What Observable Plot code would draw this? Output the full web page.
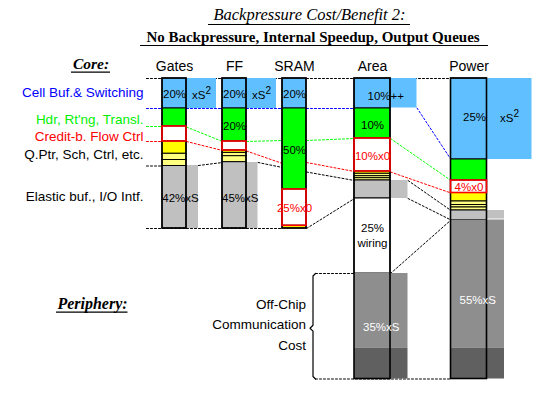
<!DOCTYPE html>
<html><head><meta charset="utf-8">
<script src="https://cdn.jsdelivr.net/npm/d3@7"></script>
<script src="https://cdn.jsdelivr.net/npm/@observablehq/plot@0.6"></script>
<style>body{margin:0;background:#fff}</style>
</head><body><div id="chart"></div>
<script>
// ---------- data ----------
const columns = ["Gates", "FF", "SRAM", "Area", "Power"];
const categoryNames = ["Cell Buf.& Switching", "Hdr, Rt'ng, Transl.", "Credit-b. Flow Ctrl", "Q.Ptr, Sch, Ctrl, etc.", "Elastic buf., I/O Intf."];
const categoryKeys = ["cell", "hdr", "credit", "qptr", "elastic"];
const categoryColors = ["#0000ff", "#00f000", "#ff0000", "#000000", "#000000"];
const categoryLabelLevels = [13.7, 41, 57.7, 76, 117.7];
const peripheryNames = ["Off-Chip", "Communication", "Cost"];

// segment categories and sizes (cost units, top to bottom)
const gatesCats = ["cell", "hdr", "credit", "qptr", "qptr2", "qptr2", "elastic"];
const gatesVals = [30, 18, 15, 12.3, 6.2, 6, 62.5];
const ffCats = ["cell", "hdr", "credit", "qptr", "qptr2", "qptr2", "elastic"];
const ffVals = [30, 33, 9, 2.4, 3.3, 6, 66.3];
const sramCats = ["cell", "hdr", "credit", "qptr"];
const sramVals = [30, 81, 36.3, 2.7];
const areaCats = ["cell", "hdr", "credit", "qptr", "qptr2", "qptr2", "qptr2", "elastic", "wiring", "offchip", "offchip2"];
const areaVals = [30, 30, 33, 2.3, 2.4, 2, 2.3, 18, 75, 74.5, 31];
const powerCats = ["cell", "hdr", "credit", "qptr", "qptr2", "qptr2", "qptr2", "elastic", "offchip", "offchip2"];
const powerVals = [81, 21, 12.5, 8.5, 3.5, 2.5, 3, 9.5, 128, 31];

// scaled extensions (xS^2, xS, ++)
const extCols = ["Gates", "Gates", "FF", "FF", "Area", "Area", "Area", "Area", "Power", "Power", "Power", "Power"];
const extCats = ["cell", "elastic", "cell", "elastic", "cell", "elastic", "offchip", "offchip2", "cell", "elastic", "offchip", "offchip2"];
const extFrom = [0, 87, 0, 84, 0, 102, 195, 269.5, 0, 132, 141.5, 269.5];
const extTo = [30, 150, 30, 150, 29.5, 120, 269.5, 300.5, 81, 140.5, 269.5, 300.5];
const extSize = [30, 12, 30, 11.5, 26.5, 17.5, 17.5, 17.5, 45, 17.5, 17.5, 17.5];

// value labels
const valCols = ["Gates", "Gates", "Gates", "FF", "FF", "FF", "FF", "SRAM", "SRAM", "SRAM", "Area", "Area", "Area", "Area", "Area", "Power", "Power", "Power", "Power"];
const valTexts = ["20%", "xS²", "42%xS", "20%", "xS²", "20%", "45%xS", "20%", "50%", "25%x0", "10%++", "10%", "10%x0", "25%\nwiring", "35%xS", "25%", "xS²", "4%x0", "55%xS"];
const valLevels = [14.5, 15.5, 119, 14.5, 15.5, 47, 119, 14.5, 71, 128.5, 16.3, 46, 77, 156.5, 247.7, 37.7, 38.5, 108, 220.5];
const valSpan = ["bar", "ext:cell", "both:elastic", "bar", "ext:cell", "bar", "both:elastic", "bar", "bar", "bar", "both:cell", "bar", "bar", "bar", "both:offchip", "bar", "ext:cell", "bar", "both:offchip"];
const valKind = ["k", "k", "k", "k", "k", "k", "k", "k", "k", "r", "k", "k", "r", "k", "w", "k", "k", "r", "w"];

// dotted connectors between columns: [series, from column, from edge, from level, to column, to level]
const links = [
  ["top", "labels", "bar", 0, "Power", 0],
  ["cell", "labels", "bar", 30, "Area", 30],
  ["cell", "Area", "ext:cell", 29.5, "Power", 81],
  ["hdr", "labels", "bar", 48, "Gates", 48],
  ["hdr", "Gates", "bar", 48.5, "FF", 63],
  ["hdr", "FF", "bar", 63, "SRAM", 62],
  ["hdr", "SRAM", "bar", 62, "Area", 60],
  ["hdr", "Area", "bar", 60, "Power", 102],
  ["credit", "labels", "bar", 63, "Gates", 63],
  ["credit", "Gates", "bar", 63, "FF", 72],
  ["credit", "FF", "bar", 72.5, "SRAM", 85],
  ["credit", "SRAM", "bar", 84, "Area", 93],
  ["credit", "Area", "bar", 93.5, "Power", 114.5],
  ["qptr", "labels", "bar", 87.5, "Gates", 87.5],
  ["qptr", "Gates", "ext:elastic", 87, "FF", 84],
  ["qptr", "FF", "ext:elastic", 84, "SRAM", 89],
  ["qptr", "SRAM", "bar", 93.5, "Area", 102],
  ["qptr", "Area", "ext:elastic", 102, "Power", 132],
  ["elastic", "labels", "bar", 150, "SRAM", 150],
  ["elastic", "SRAM", "bar", 150, "Area", 120],
  ["elastic", "Area", "ext:elastic", 120, "Power", 141.5],
  ["wiring", "Area", "bar", 195, "Power", 141.5],
  ["periphTop", "brace", "bar", 195, "Area", 195],
  ["periphBottom", "brace", "bar", 300.5, "Power", 300.5]
];

// ---------- layout & style ----------
const W = 546, H = 393, barTop = 78;
const colLeft = [162, 222, 282, 354, 450.5];
const colWidth = [24, 24, 24, 36, 36];
const labelEdge = 146, braceEdge = 315, labelRight = 143, periphRight = 305.5;
const fillOf = {cell: "#60c0ff", hdr: "#00ff00", credit: "#ffffff", qptr: "#ffff00", qptr2: "#ffff80",
  elastic: "#c0c0c0", wiring: "#ffffff", offchip: "#8e8e8e", offchip2: "#606060"};
const linkColor = {top: "black", cell: "#0000ff", hdr: "#00ff00", credit: "#ff0000", qptr: "black",
  elastic: "black", wiring: "black", periphTop: "black", periphBottom: "black"};
const kindColor = {k: "black", r: "#ff0000", w: "white"};
const SANS = "Liberation Sans, Arial, Helvetica, sans-serif";
const SERIF = "Liberation Serif, Times New Roman, serif";

const ci = c => columns.indexOf(c);
const L = c => colLeft[ci(c)];
const R = c => colLeft[ci(c)] + colWidth[ci(c)];
const X = (c, cat) => {
  const i = extCols.findIndex((d, j) => d === c && extCats[j] === cat);
  return R(c) + extSize[i];
};
const edge = (c, e) => c === "labels" ? labelEdge : c === "brace" ? braceEdge :
  e === "bar" ? R(c) : X(c, e.slice(4));

const segData = {Gates: [gatesCats, gatesVals], FF: [ffCats, ffVals], SRAM: [sramCats, sramVals],
  Area: [areaCats, areaVals], Power: [powerCats, powerVals]};
const segments = columns.flatMap(c => {
  const [cats, vals] = segData[c];
  const ends = Array.from(d3.cumsum(vals));
  return cats.map((cat, i) => ({col: c, cat, x1: L(c), x2: R(c), y1: barTop + (i ? ends[i - 1] : 0), y2: barTop + ends[i]}));
});
const colTotals = columns.map(c => ({col: c, total: d3.sum(segData[c][1])}));
const exts = extCols.map((c, i) => ({col: c, cat: extCats[i], x1: R(c), x2: R(c) + extSize[i], y1: barTop + extFrom[i], y2: barTop + extTo[i]}));

const valueLabels = valCols.map((c, i) => {
  const s = valSpan[i];
  let x;
  if (s === "bar") x = (L(c) + R(c)) / 2 + (c === "Power" && valTexts[i] === "25%" ? 5.5 : 0);
  else if (s.startsWith("ext")) x = (R(c) + X(c, s.slice(4))) / 2;
  else x = (L(c) + X(c, s.slice(5))) / 2;
  return {x, y: barTop + valLevels[i], text: valTexts[i], fill: kindColor[valKind[i]]};
});

const linkRows = links.flatMap((l, i) => [
  {id: i, color: linkColor[l[0]], x: edge(l[1], l[2]), y: barTop + l[3]},
  {id: i, color: linkColor[l[0]], x: L(l[4]), y: barTop + l[5]}
]);

const brace = [[braceEdge, 195], [312.5, 197.5], [312.5, 246.8], [309.5, 249.7], [312.5, 252.6], [312.5, 298], [braceEdge, 300.5]]
  .map(([x, y]) => ({x, y: barTop + y}));

const underlines = [
  {x1: 208, x2: 410, y: 24}, {x1: 140, x2: 488, y: 45},
  {x1: 71, x2: 110, y: 71.7}, {x1: 56, x2: 127.5, y: 311.7}
];

const chart = Plot.plot({
  width: W, height: H, margin: 0,
  x: {domain: [0, W], range: [0, W], axis: null},
  y: {domain: [0, H], range: [0, H], axis: null},
  color: {type: "identity"},
  style: {background: "white", fontFamily: SANS},
  marks: [
    Plot.line(linkRows, {x: "x", y: "y", z: "id", stroke: "color", strokeWidth: 1, strokeDasharray: "2,2"}),
    Plot.line(brace, {x: "x", y: "y", stroke: "black", strokeWidth: 1.2}),
    Plot.rect(exts, {x1: "x1", x2: "x2", y1: "y1", y2: "y2", fill: d => fillOf[d.cat]}),
    Plot.rect(segments, {x1: "x1", x2: "x2", y1: "y1", y2: "y2", fill: d => fillOf[d.cat],
      stroke: d => (d.cat === "offchip" || d.cat === "offchip2") ? "none" : "black", strokeWidth: 1}),
    Plot.rect(colTotals, {x1: d => L(d.col), x2: d => R(d.col), y1: barTop, y2: d => barTop + d.total,
      fill: "none", stroke: "black", strokeWidth: 1.6}),
    Plot.rect(segments.filter(d => d.cat === "credit"), {x1: "x1", x2: "x2", y1: "y1", y2: "y2",
      fill: "none", stroke: "#ff0000", strokeWidth: 1.6}),
    Plot.text(valueLabels, {x: "x", y: "y", text: "text", fill: "fill", fontSize: 11.5, lineHeight: 1.3,
      lineAnchor: "middle", fontFamily: SANS}),
    Plot.text(columns, {x: c => (L(c) + R(c)) / 2, y: 66.2, text: d => d, fontSize: 14, lineAnchor: "middle", fill: "black"}),
    Plot.text(categoryNames, {x: labelRight, y: (d, i) => barTop + categoryLabelLevels[i], text: d => d,
      fill: (d, i) => categoryColors[i], fontSize: 13.5, textAnchor: "end", lineAnchor: "middle"}),
    Plot.text(peripheryNames, {x: periphRight, y: (d, i) => 304 + 20.5 * i, text: d => d,
      fill: "black", fontSize: 13.5, textAnchor: "end", lineAnchor: "middle"}),
    Plot.text(["Backpressure Cost/Benefit 2:"], {x: 309, y: 14, text: d => d, fontFamily: SERIF,
      fontStyle: "italic", fontSize: 16.5, fill: "black", lineAnchor: "middle"}),
    Plot.text(["No Backpressure, Internal Speedup, Output Queues"], {x: 312.5, y: 36.3, text: d => d,
      fontFamily: SERIF, fontWeight: "bold", fontSize: 15, fill: "black", lineAnchor: "middle"}),
    Plot.text(["Core:"], {x: 90.5, y: 63.3, text: d => d, fontFamily: SERIF, fontWeight: "bold",
      fontStyle: "italic", fontSize: 15.5, fill: "black", lineAnchor: "middle"}),
    Plot.text(["Periphery:"], {x: 92, y: 303.5, text: d => d, fontFamily: SERIF, fontWeight: "bold",
      fontStyle: "italic", fontSize: 16, fill: "black", lineAnchor: "middle"}),
    Plot.ruleY(underlines, {x1: "x1", x2: "x2", y: "y", stroke: "black", strokeWidth: 1.2})
  ]
});
// render the "²" as a real superscript
chart.querySelectorAll("text").forEach(t => {
  if (t.textContent === "xS²") {
    t.textContent = "xS";
    const sup = document.createElementNS("http://www.w3.org/2000/svg", "tspan");
    sup.setAttribute("dy", "-5");
    sup.setAttribute("font-size", "10");
    sup.textContent = "2";
    t.appendChild(sup);
  }
});
document.getElementById("chart").appendChild(chart);
</script>
</body></html>
